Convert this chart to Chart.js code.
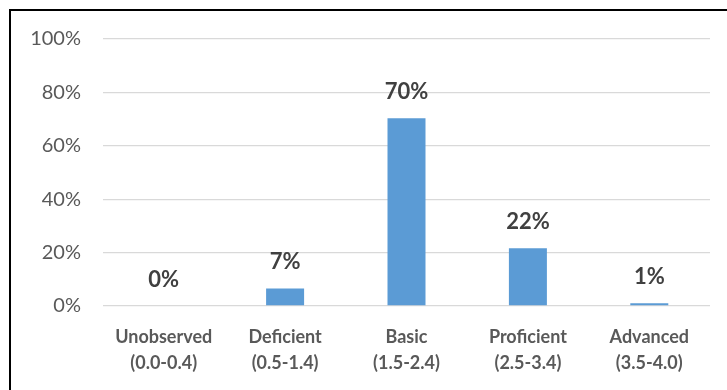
<!DOCTYPE html>
<html>
<head>
<meta charset="utf-8">
<script src="https://cdn.jsdelivr.net/npm/chart.js@4"></script>
<style>
  html, body { margin: 0; padding: 0; background: #fff; }
  #wrap { position: relative; width: 727px; height: 390px; overflow: hidden; }
  #frame { position: absolute; left: 9px; top: 9px; width: 740px; height: 400px;
           border-top: 2.5px solid #000; border-left: 2.5px solid #000; box-sizing: border-box; pointer-events: none; }
  canvas { position: absolute; left: 0; top: 0; }
</style>
</head>
<body>
<div id="wrap">
  <canvas id="c" width="727" height="390"></canvas>
  <div id="frame"></div>
</div>
<script>
const categories = [
  ["Unobserved", "(0.0-0.4)"],
  ["Deficient", "(0.5-1.4)"],
  ["Basic", "(1.5-2.4)"],
  ["Proficient", "(2.5-3.4)"],
  ["Advanced", "(3.5-4.0)"]
];
const values = [0, 6.6, 70.3, 21.6, 1];
const valueLabels = ["0%", "7%", "70%", "22%", "1%"];
const yTicks = [0, 20, 40, 60, 80, 100];

const barLabelPlugin = {
  id: 'barLabels',
  afterDatasetsDraw(chart) {
    const ctx = chart.ctx;
    const meta = chart.getDatasetMeta(0);
    ctx.save();
    ctx.font = 'bold 22px Lato, "Open Sans", sans-serif';
    ctx.fillStyle = '#404040';
    ctx.textAlign = 'center';
    ctx.textBaseline = 'middle';
    meta.data.forEach((bar, i) => {
      ctx.fillText(valueLabels[i], bar.x, bar.y - 26);
    });
    ctx.restore();
  }
};

new Chart(document.getElementById('c'), {
  type: 'bar',
  data: {
    labels: categories,
    datasets: [{
      data: values,
      backgroundColor: '#5b9bd5',
      borderWidth: 0,
      barPercentage: 0.313,
      categoryPercentage: 1.0
    }]
  },
  options: {
    responsive: false,
    animation: false,
    devicePixelRatio: 1,
    layout: { padding: { top: 39, right: 17, left: 0, bottom: 0 } },
    plugins: { legend: { display: false }, tooltip: { enabled: false } },
    scales: {
      x: {
        grid: { display: false, drawTicks: false },
        border: { display: false },
        ticks: {
          padding: 18,
          color: '#595959',
          font: { family: 'Lato, "Open Sans", sans-serif', size: 18, weight: 'bold', lineHeight: 1.45 },
          maxRotation: 0, autoSkip: false
        },
        afterFit(scale) { scale.height = 84; }
      },
      y: {
        min: 0, max: 100,
        afterBuildTicks(scale) { scale.ticks = yTicks.map(v => ({ value: v })); },
        grid: { color: '#d9d9d9', lineWidth: 1.3, drawTicks: false },
        border: { display: false },
        ticks: {
          padding: 22,
          color: '#595959',
          font: { family: 'Lato, "Open Sans", sans-serif', size: 20 },
          callback: v => v + '%'
        },
        afterFit(scale) { scale.width = 103; }
      }
    }
  },
  plugins: [barLabelPlugin]
});
</script>
</body>
</html>
